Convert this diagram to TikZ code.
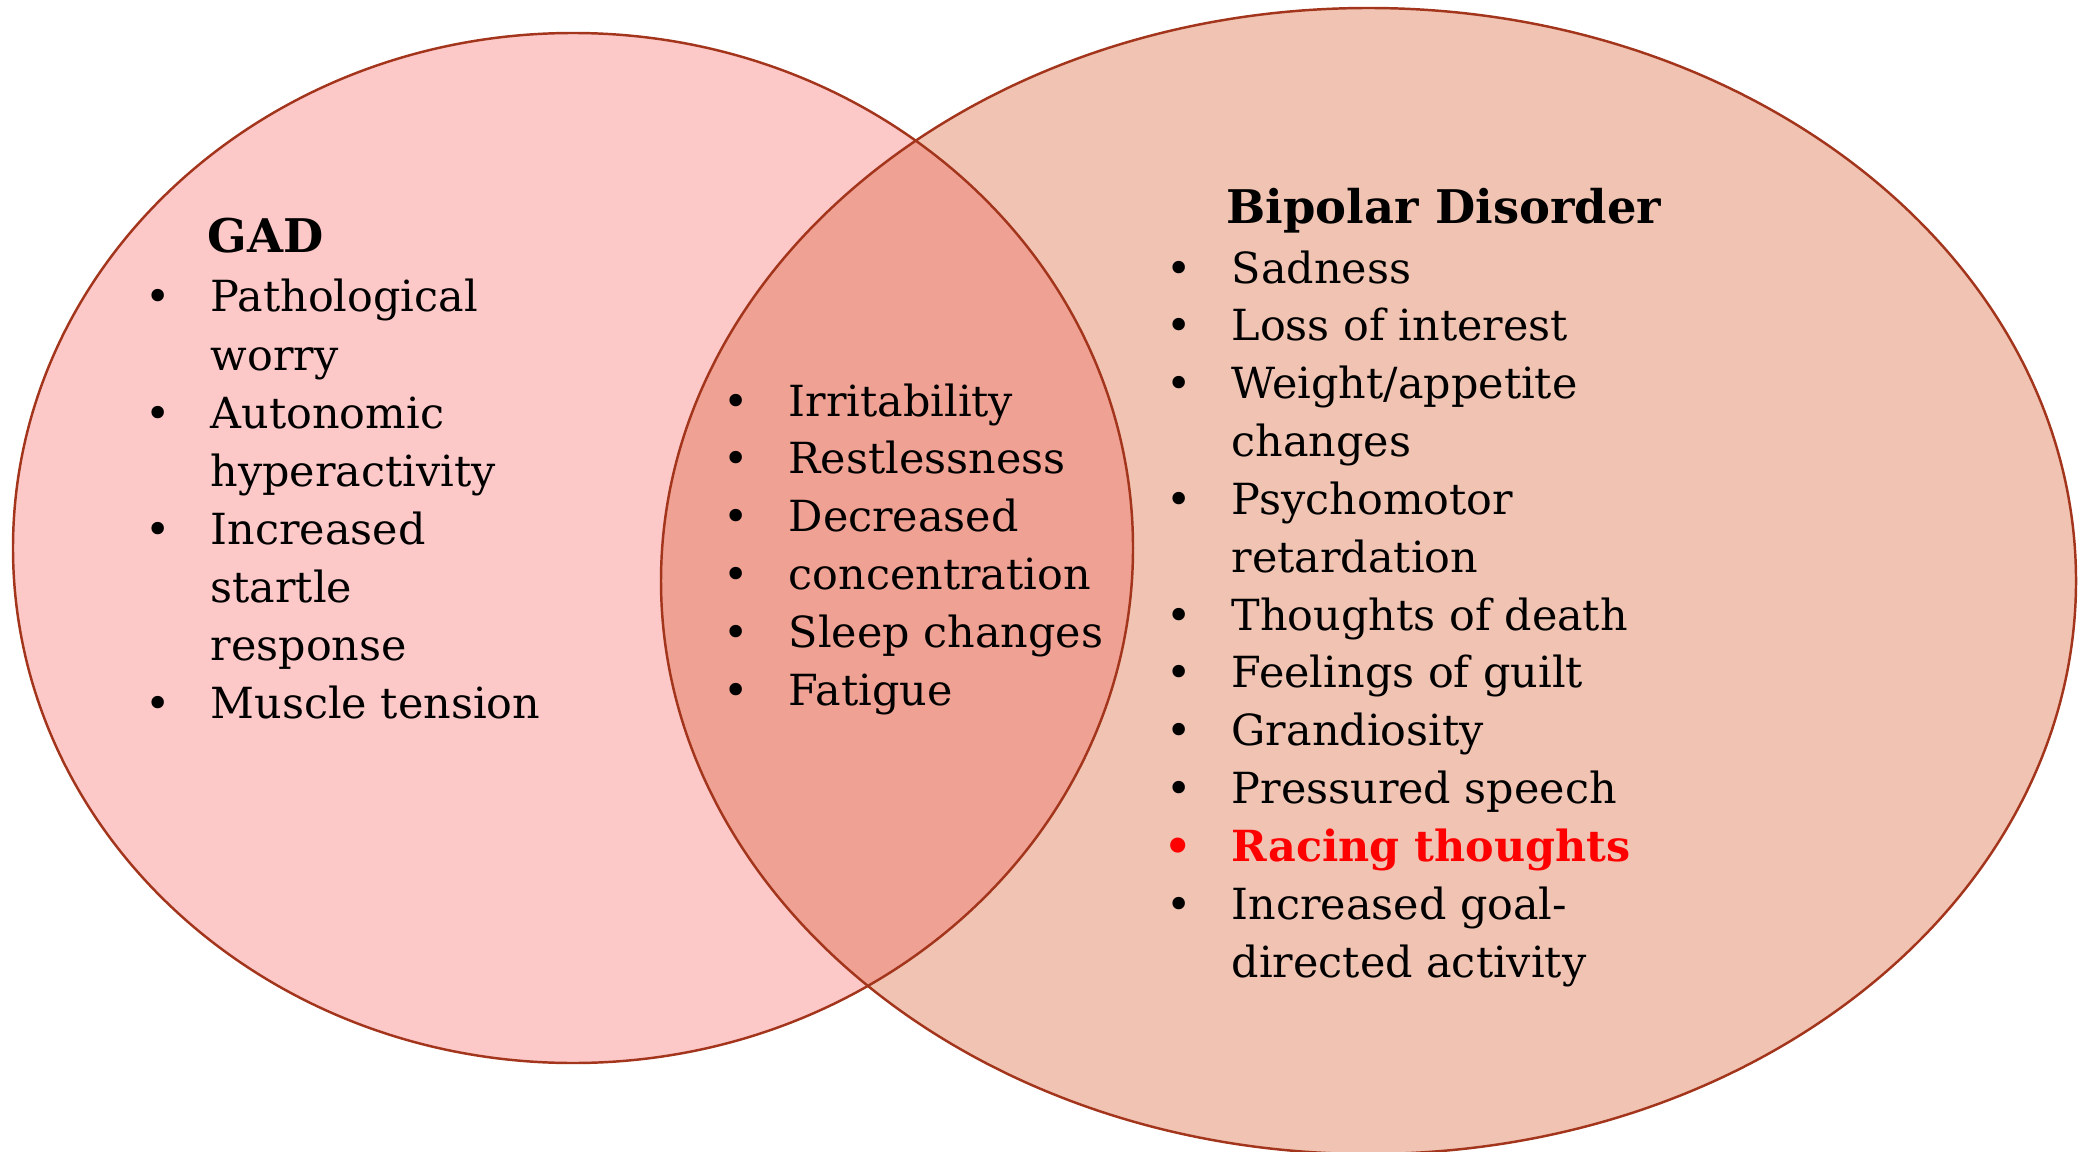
\documentclass[tikz,border=0pt]{standalone}
\usepackage{fontspec}
\setmainfont{DejaVu Serif}

\definecolor{gadpink}{HTML}{FCC9C8}
\definecolor{bipolarpeach}{HTML}{F0C3B2}
\definecolor{overlapsalmon}{HTML}{EFA193}
\definecolor{rimbrown}{HTML}{A3351C}

\newcommand{\bul}{\llap{\textbullet\hspace{0.4cm}}}

\begin{document}
\begin{tikzpicture}[
  item/.style={anchor=base west, inner sep=0pt, font=\fontsize{12.2}{14}\selectfont},
  heading/.style={anchor=base west, inner sep=0pt, font=\fontsize{13.2}{15}\selectfont\bfseries},
  rim/.style={draw=rimbrown, line width=0.7pt}
]
  \useasboundingbox (0,0) rectangle (20.85,11.51);

  % ===== Elipses =====
  \fill[gadpink] (5.73,6.03) ellipse (5.60 and 5.15);
  \fill[bipolarpeach] (13.685,5.70) ellipse (7.075 and 5.73);
  \begin{scope}
    \clip (5.73,6.03) ellipse (5.60 and 5.15);
    \fill[overlapsalmon] (13.685,5.70) ellipse (7.075 and 5.73);
  \end{scope}
  \draw[rim] (5.73,6.03) ellipse (5.60 and 5.15);
  \draw[rim] (13.685,5.70) ellipse (7.075 and 5.73);

  % ===== GAD =====
  \node[heading] (gadtitle) at (2.07,8.98) {GAD};
  \foreach \txt [count=\i] in {{\bul Pathological}, worry, {\bul Autonomic},
      hyperactivity, {\bul Increased}, startle, response, {\bul Muscle tension}}
    \node[item] (gad\i) at (2.10,{8.39-(\i-1)*0.58}) {\txt};

  % ===== Comunes =====
  \foreach \txt [count=\i] in {Irritability, Restlessness, Decreased,
      concentration, Sleep changes, Fatigue}
    \node[item] (both\i) at (7.88,{7.35-(\i-1)*0.579}) {\bul\txt};

  % ===== Bipolar =====
  \node[heading] (bptitle) at (12.26,9.27) {Bipolar Disorder};
  \foreach \txt [count=\i] in {{\bul Sadness}, {\bul Loss of interest},
      {\bul Weight/appetite}, changes, {\bul Psychomotor}, retardation,
      {\bul Thoughts of death}, {\bul Feelings of guilt}, {\bul Grandiosity},
      {\bul Pressured speech}, {\color{red}\bfseries\bul Racing thoughts},
      {\bul Increased goal-}, directed activity}
    \node[item] (bp\i) at (12.31,{8.68-(\i-1)*0.5785}) {\txt};
\end{tikzpicture}
\end{document}
